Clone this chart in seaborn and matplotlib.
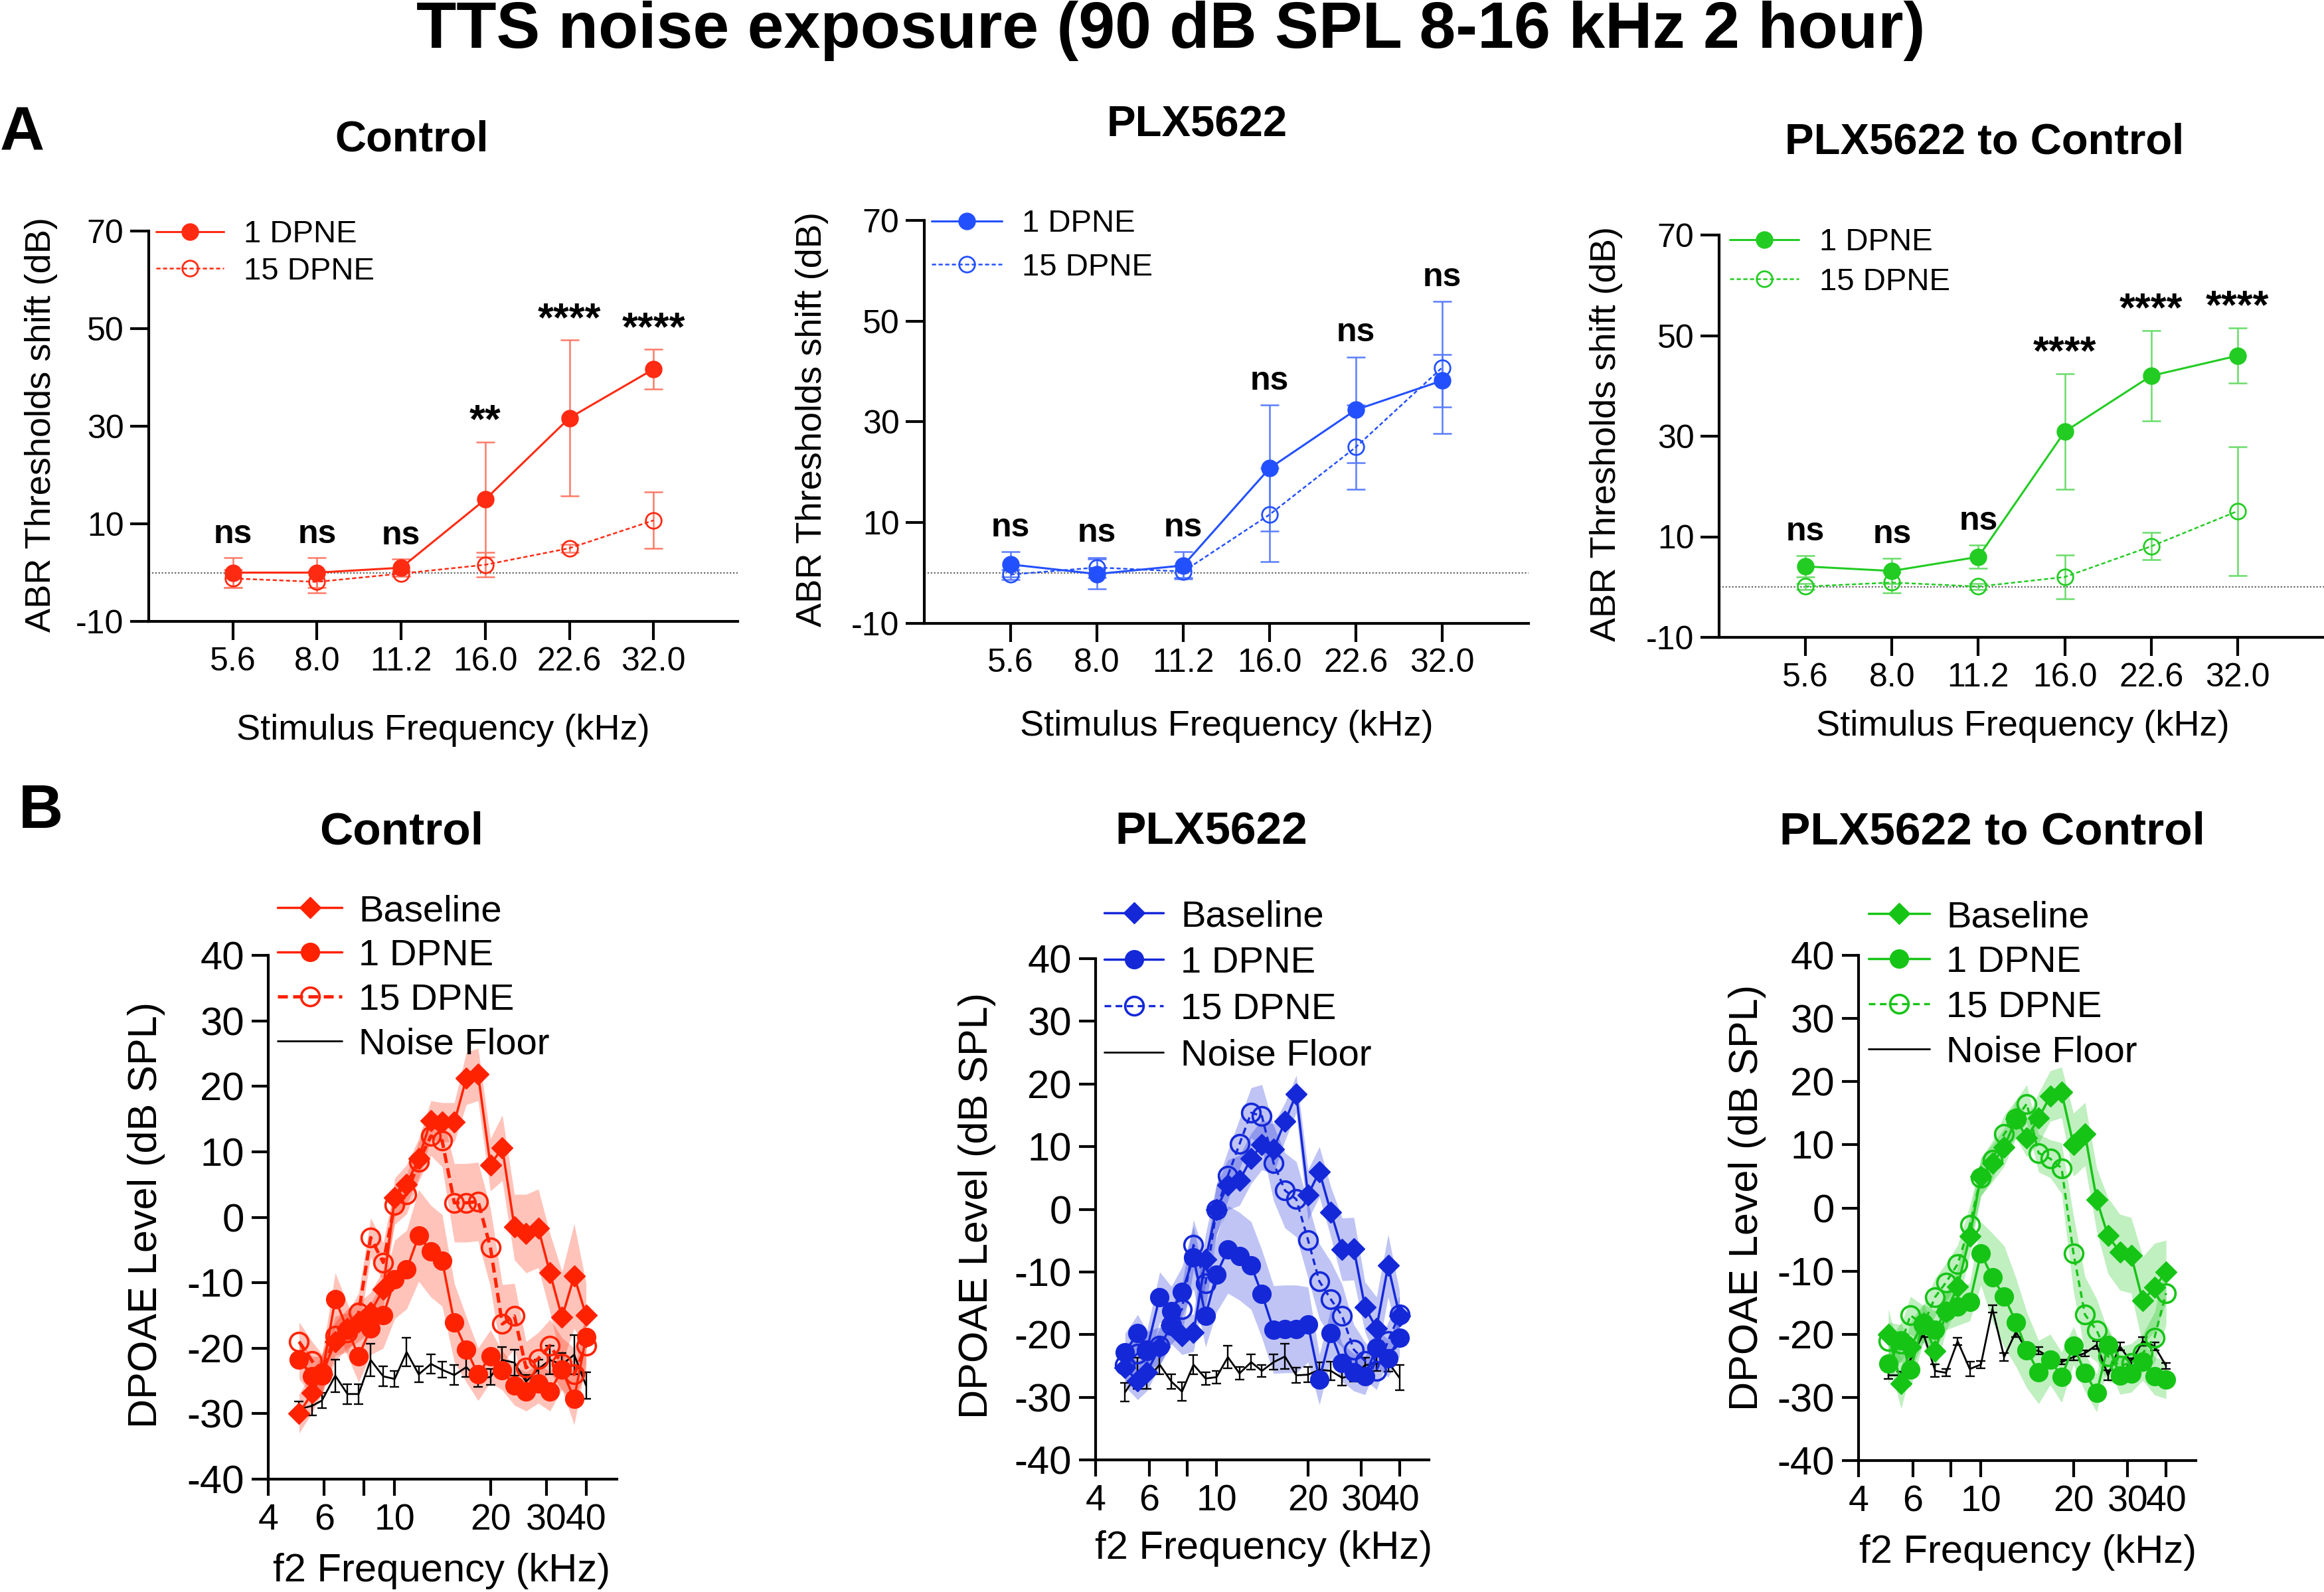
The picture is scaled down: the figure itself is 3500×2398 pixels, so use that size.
import numpy as np
import matplotlib
matplotlib.use("Agg")
import matplotlib.pyplot as plt
import seaborn as sns
from matplotlib.ticker import NullLocator

# ---------------- DATA ----------------
abr_freq_labels = ["5.6", "8.0", "11.2", "16.0", "22.6", "32.0"]

ctl_abr_1 = [0.0, 0.0, 1.0, 15.0, 31.7, 41.7]
ctl_abr_1_err = [3.0, 3.0, 1.8, 11.8, 16.0, 4.1]
ctl_abr_15 = [-1.2, -1.9, -0.2, 1.6, 5.0, 10.7]
ctl_abr_15_err = [1.8, 2.2, 0.6, 2.5, 0.8, 5.8]
ctl_sig = ["ns", "ns", "ns", "**", "****", "****"]

plx_abr_1 = [1.7, -0.2, 1.5, 20.8, 32.4, 38.2]
plx_abr_1_err = [2.5, 3.0, 2.7, 12.5, 10.5, 5.2]
plx_abr_15 = [-0.3, 1.1, 0.3, 11.6, 25.0, 40.8]
plx_abr_15_err = [1.0, 2.0, 1.2, 9.3, 8.4, 13.1]
plx_sig = ["ns", "ns", "ns", "ns", "ns", "ns"]

p2c_abr_1 = [4.1, 3.2, 6.0, 30.9, 42.0, 46.0]
p2c_abr_1_err = [2.1, 2.5, 2.3, 11.5, 9.0, 5.5]
p2c_abr_15 = [0.1, 0.9, 0.1, 2.0, 8.1, 15.1]
p2c_abr_15_err = [0.6, 2.0, 0.6, 4.4, 2.7, 12.8]
p2c_sig = ["ns", "ns", "ns", "****", "****", "****"]

dp_freq = [5.0, 5.5, 5.9, 6.5, 7.1, 7.7, 8.4, 9.2, 10.0, 10.9, 11.9, 13.0, 14.1,
           15.4, 16.8, 18.3, 20.0, 21.8, 23.8, 25.9, 28.3, 30.8, 33.6, 36.7, 40.0]

ctl_base = [-30.0, -26.8, -24.0, -19.0, -17.0, -16.0, -14.5, -11.0, 3.0, 5.0, 9.0, 14.8, 14.5,
            14.5, 21.2, 21.8, 8.0, 10.6, -1.5, -2.5, -1.7, -8.5, -15.3, -9.0, -15.0]
ctl_base_sd = [3, 3, 3, 3, 3, 3, 3, 3, 3, 3, 3, 3, 3, 3, 4, 4, 4, 5, 5, 6, 6, 6, 7, 8, 5]
ctl_d1 = [-21.7, -24.3, -24.2, -12.5, -17.2, -21.2, -17.0, -15.0, -9.5, -8.0, -2.8, -5.2, -6.6,
          -16.1, -20.2, -24.0, -21.2, -23.4, -25.7, -26.6, -25.4, -26.6, -23.3, -27.7, -18.3]
ctl_d1_sd = [3, 3, 3, 4, 4, 4, 4, 5, 6, 6, 7, 7, 7, 6, 5, 4, 4, 3, 3, 3, 3, 3, 3, 4, 4]
ctl_d15 = [-19.0, -22.0, -23.9, -18.1, -17.6, -14.6, -3.1, -6.9, 1.9, 3.5, 8.5, 12.4, 11.7,
           2.2, 2.2, 2.4, -4.6, -16.3, -15.1, -23.0, -21.6, -19.6, -22.4, -24.0, -19.6]
ctl_d15_sd = [3, 3, 3, 3, 3, 3, 3, 3, 3, 3, 3, 3, 4, 6, 6, 6, 6, 6, 5, 4, 4, 4, 4, 4, 4]
ctl_nf = [-29.3, -28.8, -28.0, -24.2, -27.0, -27.0, -21.8, -24.3, -24.7, -20.6, -24.0, -22.4, -23.3,
          -24.1, -22.9, -24.7, -24.4, -21.8, -22.2, -25.1, -23.2, -21.8, -22.5, -21.0, -25.7]
ctl_nf_sem = [1.2, 1.5, 1.2, 2.5, 1.5, 1.5, 2.5, 1.5, 1.2, 2.2, 1.2, 1.5, 1.2,
              1.5, 1.5, 1.2, 1.2, 2.0, 2.0, 1.0, 1.5, 2.2, 1.8, 3.0, 2.0]

plx_base = [-25.3, -27.4, -26.0, -22.0, -18.5, -20.2, -19.7, -8.0, 0.0, 3.9, 4.6, 8.1, 10.3,
            9.6, 14.0, 18.4, 2.3, 6.0, -0.5, -6.4, -6.3, -15.6, -19.0, -9.0, -17.0]
plx_base_sd = [3, 3, 3, 3, 3, 3, 3, 4, 4, 4, 4, 4, 4, 4, 3, 3, 4, 4, 4, 5, 5, 4, 5, 5, 4]
plx_d1 = [-22.8, -19.8, -22.4, -14.0, -16.3, -13.2, -7.7, -17.0, -10.4, -6.4, -7.5, -9.0, -13.5,
          -19.2, -19.1, -19.1, -18.4, -27.2, -19.8, -24.5, -26.0, -26.6, -22.1, -23.8, -20.5]
plx_d1_sd = [3, 3, 3, 4, 4, 4, 5, 5, 6, 7, 7, 7, 7, 7, 7, 7, 6, 4, 4, 3, 3, 3, 3, 3, 3]
plx_d15 = [-24.8, -23.0, -22.5, -21.8, -18.5, -15.9, -5.7, -11.8, 0.0, 5.4, 10.4, 15.4, 14.9,
           7.4, 3.0, 1.6, -4.9, -11.5, -14.4, -17.0, -22.4, -24.2, -25.8, -21.0, -16.8]
plx_d15_sd = [3, 3, 3, 3, 3, 4, 4, 4, 4, 4, 4, 4, 5, 6, 6, 6, 6, 6, 6, 5, 4, 3, 3, 3, 3]
plx_nf = [-29.2, -26.2, -27.2, -24.8, -27.5, -29.1, -24.8, -27.0, -26.8, -23.6, -26.2, -24.4, -25.8,
          -24.4, -23.5, -26.5, -26.4, -25.6, -25.8, -26.9, -26.5, -24.9, -24.6, -24.4, -26.9]
plx_nf_sem = [1.5, 2.5, 1.5, 1.5, 1.2, 1.5, 1.5, 1.0, 1.0, 1.8, 1.0, 1.2, 1.0,
              1.2, 2.0, 1.2, 1.2, 1.2, 1.5, 1.2, 1.0, 1.2, 1.2, 1.5, 2.0]

p2c_base = [-20.0, -27.8, -22.0, -18.2, -22.7, -16.5, -12.5, -4.5, 5.0, 7.1, 9.6, 14.1, 11.1,
            14.2, 17.7, 18.3, 10.0, 11.7, 1.3, -4.4, -7.0, -7.5, -14.7, -12.6, -10.1]
p2c_base_sd = [4, 4, 4, 3, 3, 3, 3, 3, 3, 3, 3, 3, 3, 4, 4, 4, 5, 5, 5, 6, 6, 6, 7, 7, 5]
p2c_d1 = [-24.7, -21.0, -25.6, -18.2, -19.3, -16.3, -15.6, -14.9, -7.2, -11.0, -14.0, -18.1, -22.5,
          -26.0, -24.0, -26.8, -21.8, -26.1, -29.3, -21.7, -26.5, -26.2, -24.3, -26.6, -27.2]
p2c_d1_sd = [3, 3, 3, 3, 3, 3, 3, 3, 5, 7, 8, 7, 6, 5, 4, 4, 3, 3, 3, 3, 3, 3, 3, 3, 3]
p2c_d15 = [-21.1, -21.5, -17.0, -18.5, -14.1, -11.8, -8.9, -2.7, 4.8, 7.6, 11.7, 14.1, 16.5,
           8.7, 7.8, 6.3, -7.2, -16.9, -19.4, -23.5, -25.0, -24.5, -23.0, -20.5, -13.5]
p2c_d15_sd = [3, 3, 3, 3, 3, 3, 3, 3, 3, 3, 3, 3, 3, 3, 3, 4, 6, 6, 5, 4, 3, 3, 3, 4, 5]
p2c_nf = [-26.5, -26.5, -24.0, -19.9, -25.8, -26.1, -21.1, -25.5, -24.8, -16.0, -23.6, -19.6, -22.6,
          -22.6, -23.7, -24.4, -23.6, -23.0, -21.7, -26.5, -21.9, -24.4, -21.1, -21.9, -25.0]
p2c_nf_sem = [0.6, 0.6, 0.8, 0.5, 1.0, 0.6, 0.6, 1.2, 0.6, 0.6, 0.6, 0.8, 0.6,
              0.6, 0.6, 0.4, 0.5, 0.5, 0.6, 0.8, 0.6, 0.6, 0.7, 0.6, 0.5]

dp_ticks = [4, 6, 8, 10, 20, 30, 40]
dp_ticklabels = ["4", "6", "", "10", "20", "30", "40"]

# ---------------- STYLE ----------------
sns.set_theme(style="ticks")
plt.rcParams['font.family'] = ['Liberation Sans', 'DejaVu Sans']
plt.rcParams['axes.unicode_minus'] = False
plt.rcParams['axes.edgecolor'] = 'black'
plt.rcParams['xtick.color'] = 'black'
plt.rcParams['ytick.color'] = 'black'
plt.rcParams['text.color'] = 'black'
plt.rcParams['axes.labelcolor'] = 'black'

W, H = 3500, 2398
DPI = 100
fig = plt.figure(figsize=(W / DPI, H / DPI), dpi=DPI)
fig.patch.set_facecolor('white')


def fx(x):
    return x / W


def fy(y):
    return 1 - y / H


def axes_px(l, t, r, b):
    return fig.add_axes([fx(l), fy(b), (r - l) / W, (b - t) / H])


def style_axes(ax, lw, ticklen, xsize, ysize, pad):
    for s in ['top', 'right']:
        ax.spines[s].set_visible(False)
    for s in ['left', 'bottom']:
        ax.spines[s].set_linewidth(lw)
        ax.spines[s].set_color('black')
    ax.tick_params(axis='both', which='major', length=ticklen, width=lw,
                   pad=pad, color='black', labelcolor='black')
    ax.tick_params(axis='x', labelsize=xsize)
    ax.tick_params(axis='y', labelsize=ysize)
    ax.set_facecolor('none')


def place_legend(ax, h, l, fs, leg_xy, leg_pitch):
    fpx = fs * DPI / 72
    hl = (leg_xy[1] - leg_xy[0]) / fpx
    tp = (leg_xy[2] - leg_xy[1]) / fpx
    ls = leg_pitch / fpx - 0.98
    ax.legend(h, l, loc='upper left',
              bbox_to_anchor=(fx(leg_xy[0]), fy(leg_xy[3] - 0.55 * fpx)),
              bbox_transform=fig.transFigure, frameon=False, fontsize=fs,
              handlelength=hl, handletextpad=tp, labelspacing=ls,
              borderpad=0, borderaxespad=0)


def abr_panel(rect, title, title_xy, color, ecolor, m1, e1, m15, e15, sig,
              leg_xy, leg_pitch, ylab_xy, xlab_xy):
    ax = axes_px(*rect)
    x = np.arange(len(abr_freq_labels))
    ax.axhline(0, color='#666666', lw=1.6, ls=(0, (1, 1.2)), zorder=1)
    ax.errorbar(x, m1, yerr=e1, fmt='none', ecolor=ecolor, elinewidth=1.8,
                capsize=10, capthick=1.8, zorder=2)
    ax.errorbar(x, m15, yerr=e15, fmt='none', ecolor=ecolor, elinewidth=1.8,
                capsize=10, capthick=1.8, zorder=2)
    sns.lineplot(x=x, y=m1, ax=ax, color=color, lw=2.2, marker='o', markersize=18,
                 markeredgecolor=color, markeredgewidth=1, label='1 DPNE', zorder=4)
    sns.lineplot(x=x, y=m15, ax=ax, color=color, lw=1.8, linestyle=(0, (2.5, 1.5)), marker='o',
                 markersize=17, markerfacecolor='none', markeredgecolor=color,
                 markeredgewidth=2.0, label='15 DPNE', zorder=3)
    for i, s in enumerate(sig):
        top = max(m1[i] + e1[i], m15[i] + e15[i])
        if s == 'ns':
            ax.text(i, top + 4.8, s, ha='center', va='center', fontsize=36, fontweight='bold')
        else:
            ax.text(i, top + 4.0, s, ha='center', va='center', fontsize=44, fontweight='bold')
    ax.set_xlim(-1, 6)
    ax.set_ylim(-10, 70)
    ax.set_xticks(x)
    ax.set_xticklabels(abr_freq_labels)
    ax.set_yticks([-10, 10, 30, 50, 70])
    style_axes(ax, 3.0, 20, 36, 36, 7)
    ax.set_ylabel('ABR Thresholds shift (dB)', fontsize=39)
    ax.set_xlabel('Stimulus Frequency (kHz)', fontsize=39)
    ax.yaxis.set_label_coords(fx(ylab_xy[0]), fy(ylab_xy[1]), transform=fig.transFigure)
    ax.xaxis.set_label_coords(fx(xlab_xy[0]), fy(xlab_xy[1]), transform=fig.transFigure)
    ax.yaxis.label.set_va('center')
    ax.xaxis.label.set_va('center')
    fig.text(fx(title_xy[0]), fy(title_xy[1]), title, ha='center', va='center',
             fontsize=47, fontweight='bold')
    h, l = ax.get_legend_handles_labels()
    place_legend(ax, h, l, 34, leg_xy, leg_pitch)
    return ax


def dp_panel(rect, title, title_xy, color, base, base_sd, d1, d1_sd, d15, d15_sd,
             nf, nf_sem, ls15, lw15, leg_xy, leg_pitch, ylab_xy, xlab_xy):
    ax = axes_px(*rect)
    ax.set_xscale('log')
    f = np.array(dp_freq)
    for m, sd in [(base, base_sd), (d1, d1_sd), (d15, d15_sd)]:
        m = np.array(m)
        sd = np.array(sd)
        ax.fill_between(f, m - sd, m + sd, color=color, alpha=0.27, lw=0, zorder=1)
    ax.errorbar(f, nf, yerr=nf_sem, fmt='none', ecolor='black', elinewidth=1.7,
                capsize=5, capthick=1.7, zorder=2)
    sns.lineplot(x=f, y=nf, ax=ax, color='black', lw=2.0, label='Noise Floor', zorder=3)
    sns.lineplot(x=f, y=base, ax=ax, color=color, lw=2.5, marker='D', markersize=16,
                 markeredgecolor=color, markeredgewidth=1, label='Baseline', zorder=5)
    sns.lineplot(x=f, y=d1, ax=ax, color=color, lw=2.5, marker='o', markersize=20,
                 markeredgecolor=color, markeredgewidth=1, label='1 DPNE', zorder=5)
    sns.lineplot(x=f, y=d15, ax=ax, color=color, lw=lw15, linestyle=ls15, marker='o',
                 markersize=20, markerfacecolor='none', markeredgecolor=color,
                 markeredgewidth=2.6, label='15 DPNE', zorder=4)
    ax.set_xlim(4, 50)
    ax.set_ylim(-40, 40)
    ax.xaxis.set_minor_locator(NullLocator())
    ax.set_xticks(dp_ticks)
    ax.set_xticklabels(dp_ticklabels)
    ax.set_yticks(np.arange(-40, 41, 10))
    style_axes(ax, 3.0, 18, 40, 43, 8)
    ax.set_ylabel('DPOAE Level (dB SPL)', fontsize=44)
    ax.set_xlabel('f2 Frequency (kHz)', fontsize=43)
    ax.yaxis.set_label_coords(fx(ylab_xy[0]), fy(ylab_xy[1]), transform=fig.transFigure)
    ax.xaxis.set_label_coords(fx(xlab_xy[0]), fy(xlab_xy[1]), transform=fig.transFigure)
    ax.yaxis.label.set_va('center')
    ax.xaxis.label.set_va('center')
    fig.text(fx(title_xy[0]), fy(title_xy[1]), title, ha='center', va='center',
             fontsize=50, fontweight='bold')
    h, l = ax.get_legend_handles_labels()
    order = [l.index(n) for n in ['Baseline', '1 DPNE', '15 DPNE', 'Noise Floor']]
    h = [h[i] for i in order]
    l = [l[i] for i in order]
    place_legend(ax, h, l, 40.5, leg_xy, leg_pitch)
    return ax


# ---------------- FIGURE ----------------
red_t, red_e = '#FF2A12', '#FF7A68'
blue_t, blue_e = '#2350FF', '#5A7DFF'
green_t, green_e = '#22CC22', '#6ADC6A'
red_b, blue_b, green_b = '#FF2200', '#1428D8', '#16C416'

abr_panel((224, 348, 1111, 936), 'Control', (620, 211), red_t, red_e,
          ctl_abr_1, ctl_abr_1_err, ctl_abr_15, ctl_abr_15_err, ctl_sig,
          (235, 337, 367, 357), 58, (62, 640), (667, 1100))
abr_panel((1392, 332, 2302, 939), 'PLX5622', (1803, 188), blue_t, blue_e,
          plx_abr_1, plx_abr_1_err, plx_abr_15, plx_abr_15_err, plx_sig,
          (1403, 1509, 1539, 341), 68, (1223, 632), (1847, 1094))
abr_panel((2589, 354, 3500, 960), 'PLX5622 to Control', (2989, 214), green_t, green_e,
          p2c_abr_1, p2c_abr_1_err, p2c_abr_15, p2c_abr_15_err, p2c_sig,
          (2605, 2709, 2740, 369), 62, (2419, 654), (3046, 1094))

dp_panel((404, 1439, 929, 2228), 'Control', (605, 1254), red_b,
         ctl_base, ctl_base_sd, ctl_d1, ctl_d1_sd, ctl_d15, ctl_d15_sd,
         ctl_nf, ctl_nf_sem, (0, (3, 1.6)), 3.6,
         (418, 515, 540, 1378), 70, (221, 1830), (665, 2366))
dp_panel((1650, 1444, 2152, 2199), 'PLX5622', (1824, 1254), blue_b,
         plx_base, plx_base_sd, plx_d1, plx_d1_sd, plx_d15, plx_d15_sd,
         plx_nf, plx_nf_sem, (0, (3, 2)), 2.4,
         (1663, 1752, 1778, 1386), 73, (1471, 1816), (1903, 2333))
dp_panel((2799, 1439, 3307, 2200), 'PLX5622 to Control', (3000, 1254), green_b,
         p2c_base, p2c_base_sd, p2c_d1, p2c_d1_sd, p2c_d15, p2c_d15_sd,
         p2c_nf, p2c_nf_sem, (0, (3, 2)), 2.4,
         (2814, 2906, 2931, 1387), 71, (2631, 1804), (3054, 2339))

fig.text(fx(1763), fy(46), 'TTS noise exposure (90 dB SPL 8-16 kHz 2 hour)',
         ha='center', va='center', fontsize=71, fontweight='bold')
fig.text(fx(33), fy(201), 'A', ha='center', va='center', fontsize=67, fontweight='bold')
fig.text(fx(61), fy(1223), 'B', ha='center', va='center', fontsize=67, fontweight='bold')

fig.savefig('out.png', dpi=DPI, facecolor='white')
